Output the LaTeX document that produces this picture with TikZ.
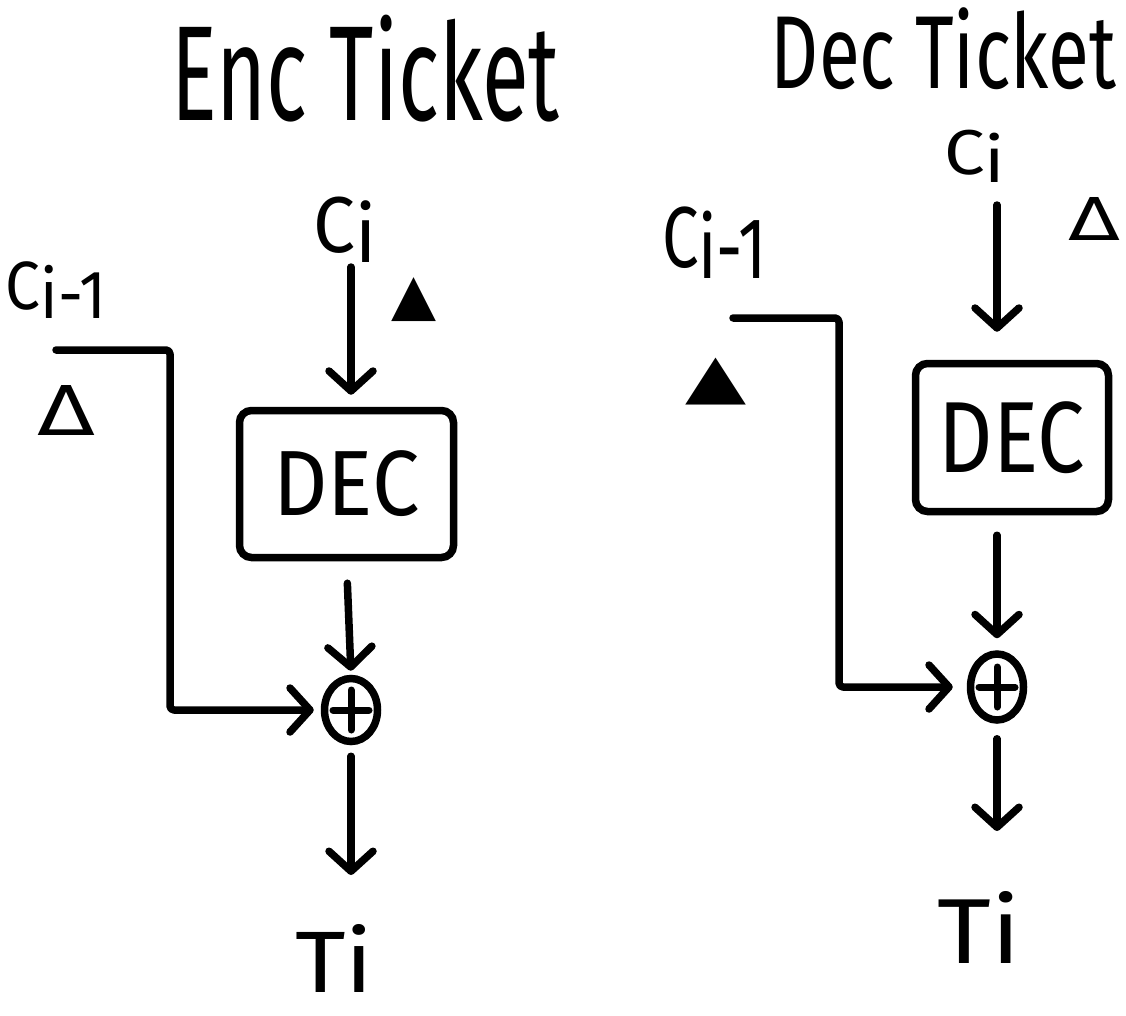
\documentclass[tikz,border=0pt]{standalone}
\usepackage{fontspec}
\usepackage{graphicx}
\setmainfont{Fira Sans}
\newfontfamily\handlight{Fira Sans}
\newfontfamily\symfont{DejaVu Sans}
\usetikzlibrary{arrows.meta,shapes.geometric}
\newcommand{\fitbox}[3]{\resizebox*{#1}{#2}{#3}}
\begin{document}
\begin{tikzpicture}[x=1pt,y=-1pt,
  txt/.style={inner sep=0pt, outer sep=0pt},
  conn/.style={line width=7.5pt, line cap=round, line join=round, rounded corners=4pt},
  arr/.style={conn, -{Straight Barb[length=20pt,width=44pt,line cap=round,line join=round]}},
  decbox/.style={draw, line width=7.5pt, rounded corners=12pt, inner sep=0pt},
  xorshape/.style={draw, ellipse, line width=7.5pt, inner sep=0pt,
    path picture={
      \draw[line width=7pt,line cap=round]
        ([xshift=-18pt]path picture bounding box.center) -- ([xshift=18pt]path picture bounding box.center);
      \draw[line width=7pt,line cap=round]
        ([yshift=-20pt]path picture bounding box.center) -- ([yshift=20pt]path picture bounding box.center);
    }}
]
\fill[white] (0,0) rectangle (1126,1016);
\useasboundingbox (0,0) rectangle (1126,1016);

% ---------- left panel: Enc Ticket ----------
\node[txt] (ltitle) at (365.5,68.5) {\fitbox{388pt}{107pt}{\handlight Enc Ticket}};
\node[txt] (lci)   at (345.5,229.5) {\fitbox{63pt}{65pt}{C\raisebox{-0.12em}{i}}};
\node[txt] (lcim)  at (56,290)      {\fitbox{100pt}{56pt}{C\raisebox{-0.12em}{i-1}}};
\node[txt] (ldelta) at (67,410)     {\fitbox{58pt}{50pt}{\symfont Δ}};
\node[txt] (lfill) at (414.5,300)   {\fitbox{45pt}{44pt}{\symfont ▲}};
\node[decbox, minimum width=214pt, minimum height=147pt] (ldec) at (346.5,484)
      {\fitbox{146pt}{66pt}{DEC}};
\node[xorshape, minimum width=53pt, minimum height=63pt] (lxor) at (351,710) {};
\node[txt] (lti)   at (334.5,958) {\fitbox{78pt}{68pt}{Ti}};
\coordinate (lin) at (56,350);

\draw[arr, shorten <=5pt, shorten >=12pt] (lci.south -| lxor.north) -- (ldec.north -| lxor.north);
\draw[arr, shorten <=22pt, shorten >=4pt] (ldec.south) -- (lxor.north);
\draw[arr, shorten <=11pt, shorten >=49pt] (lxor.south) -- (lxor.south |- lti.north);
\draw[arr, shorten >=7pt] (lin) -- ++(114,0) |- (lxor.west);

% ---------- right panel: Dec Ticket ----------
\node[txt] (rtitle) at (943.5,49) {\fitbox{345pt}{82pt}{\handlight Dec Ticket}};
\node[txt] (rci)   at (974.5,156)   {\fitbox{61pt}{52pt}{C\raisebox{-0.12em}{i}}};
\node[txt] (rcim)  at (714.5,242.5) {\fitbox{105pt}{71pt}{C\raisebox{-0.12em}{i-1}}};
\node[txt] (rdelta) at (1094,218.5) {\fitbox{52pt}{43pt}{\symfont Δ}};
\node[txt] (rfill) at (716.5,381.5) {\fitbox{61pt}{47pt}{\symfont ▲}};
\node[decbox, minimum width=193pt, minimum height=148pt] (rdec) at (1012,437.5)
      {\fitbox{146pt}{72pt}{DEC}};
\node[xorshape, minimum width=53pt, minimum height=66pt] (rxor) at (997,687) {};
\node[txt] (rti)   at (979.5,927) {\fitbox{83pt}{72pt}{Ti}};
\coordinate (rin) at (733,318);

\draw[arr, shorten <=23pt, shorten >=28pt] (rci.south -| rxor.north) -- (rdec.north -| rxor.north);
\draw[arr, shorten <=20pt, shorten >=12pt] (rdec.south -| rxor.north) -- (rxor.north);
\draw[arr, shorten <=15pt, shorten >=60pt] (rxor.south) -- (rxor.south |- rti.north);
\draw[arr, shorten >=14pt] (rin) -- ++(106,0) |- (rxor.west);
\end{tikzpicture}
\end{document}
